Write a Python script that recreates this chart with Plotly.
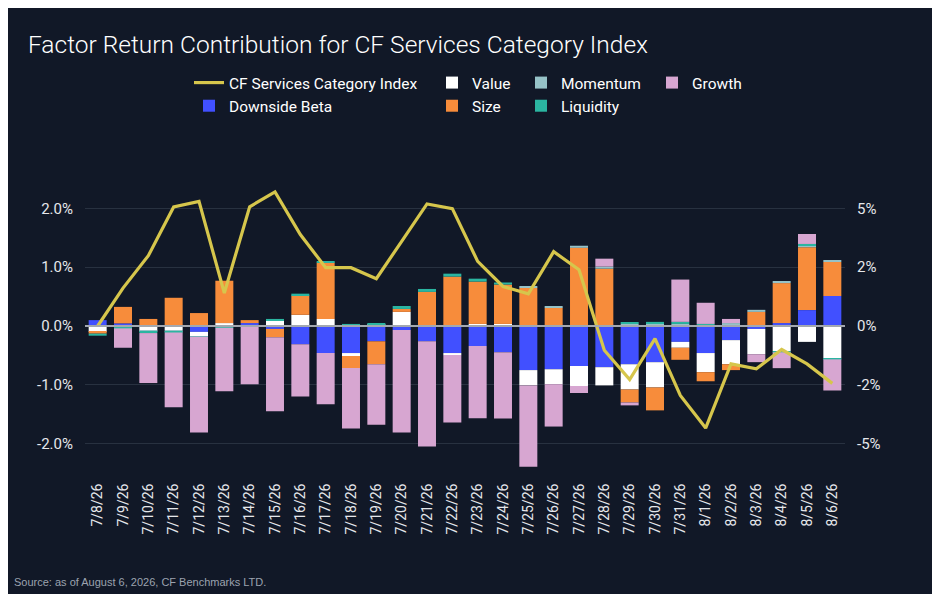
import plotly.graph_objects as go

dates = ["7/8/26", "7/9/26", "7/10/26", "7/11/26", "7/12/26", "7/13/26", "7/14/26", "7/15/26",
         "7/16/26", "7/17/26", "7/18/26", "7/19/26", "7/20/26", "7/21/26", "7/22/26", "7/23/26",
         "7/24/26", "7/25/26", "7/26/26", "7/27/26", "7/28/26", "7/29/26", "7/30/26", "7/31/26",
         "8/1/26", "8/2/26", "8/3/26", "8/4/26", "8/5/26", "8/6/26"]

# factor contributions, in percent (left axis)
downside_beta = [0.10, 0.045, 0.0, 0.0, -0.10, 0.0, 0.05, -0.05, -0.31, -0.46, -0.46, -0.26, -0.07, -0.26, -0.46,
                 -0.34, -0.445, -0.75, -0.735, -0.68, -0.70, -0.65, -0.615, -0.27, -0.46, -0.24, -0.05, 0.05, 0.27, 0.51]
value = [-0.10, 0.0, -0.08, -0.07, -0.07, 0.05, 0.0, 0.10, 0.19, 0.12, -0.05, 0.02, 0.24, 0.0, -0.035,
         0.035, 0.035, -0.26, -0.255, -0.34, -0.31, -0.43, -0.43, -0.10, -0.325, -0.41, -0.43, -0.43, -0.27, -0.55]
size = [-0.03, 0.28, 0.12, 0.48, 0.22, 0.72, 0.05, -0.14, 0.33, 0.96, -0.205, -0.39, 0.05, 0.58, 0.84,
        0.72, 0.67, 0.65, 0.31, 1.33, 0.975, -0.22, -0.39, -0.205, -0.155, -0.10, 0.24, 0.68, 1.07, 0.58]
momentum = [0.0, -0.02, -0.02, -0.02, 0.0, -0.015, 0.0, 0.0, 0.0, 0.0, 0.01, 0.0, 0.0, 0.0, 0.0,
            0.0, 0.0, 0.02, 0.02, 0.035, 0.035, 0.035, 0.05, 0.035, 0.015, 0.05, 0.035, 0.035, 0.035, 0.017]
liquidity = [-0.035, -0.02, -0.02, -0.02, -0.01, -0.015, 0.0, 0.02, 0.03, 0.02, 0.025, 0.02, 0.05, 0.05, 0.05,
             0.05, 0.035, 0.0, 0.0, 0.0, 0.0, 0.02, 0.02, 0.035, 0.02, 0.0, 0.0, -0.017, 0.02, -0.017]
growth = [0.0, -0.33, -0.85, -1.27, -1.63, -1.08, -0.99, -1.26, -0.89, -0.87, -1.03, -1.03, -1.74, -1.79, -1.145,
          -1.23, -1.13, -1.385, -0.72, -0.12, 0.135, -0.05, 0.0, 0.72, 0.36, 0.07, -0.135, -0.27, 0.17, -0.53]

# index return, in percent (right axis)
index_return = [0.0, 1.61, 2.99, 5.06, 5.30, 1.40, 5.07, 5.70, 3.89, 2.48, 2.48, 2.01, 3.60, 5.19, 4.99,
                2.75, 1.68, 1.37, 3.16, 2.39, -1.03, -2.28, -0.54, -2.95, -4.34, -1.61, -1.82, -1.00, -1.61, -2.44]

left_ticks = [-2, -1, 0, 1, 2]
left_labels = ["-2.0%", "-1.0%", "0.0%", "1.0%", "2.0%"]
right_ticks = [-5, -2.5, 0, 2.5, 5]
right_labels = ["-5%", "-2%", "0%", "2%", "5%"]

BG = "#111827"
FONT = "Roboto, Liberation Sans, Arial, sans-serif"
# the page places the figure at (8, 8); all positions below are figure pixels
W, H = 926, 586
ML, MR, MT, MB = 77, 89, 171, 121
pw = W - ML - MR
ph = H - MT - MB


def px_to_paper_x(px):
    return (px - ML) / pw


def px_to_paper_y(py):
    return (H - MB - py) / ph


fig = go.Figure()

fig.add_trace(go.Scatter(
    x=dates, y=index_return, name="CF Services Category Index", mode="lines",
    line=dict(color="#D6C64C", width=3.2), yaxis="y2", legend="legend"))

factors = [
    ("Downside Beta", downside_beta, "#4150FF", "legend"),
    ("Value", value, "#FFFFFF", "legend2"),
    ("Size", size, "#F78C3B", "legend2"),
    ("Momentum", momentum, "#96C2C7", "legend3"),
    ("Liquidity", liquidity, "#2BB5A1", "legend3"),
    ("Growth", growth, "#D7A6D1", "legend4"),
]
for name, vals, col, lgname in factors:
    fig.add_trace(go.Bar(x=dates, y=vals, name=name, marker=dict(color=col, line=dict(width=0)),
                         legend=lgname))

legend_font = dict(family=FONT, size=15.5, color="#FFFFFF")


def lg(xpx):
    return dict(x=px_to_paper_x(xpx), y=px_to_paper_y(58), xanchor="left",
                yanchor="top", orientation="v", font=legend_font, bgcolor="rgba(0,0,0,0)",
                borderwidth=0, traceorder="normal")


fig.update_layout(
    width=W, height=H,
    margin=dict(l=ML, r=MR, t=MT, b=MB, pad=0, autoexpand=False),
    paper_bgcolor=BG,
    plot_bgcolor=BG,
    barmode="relative",
    bargap=0.29,
    font=dict(family=FONT, color="#D1D5DB", size=14),
    title=dict(text="Factor Return Contribution for CF Services Category Index",
               x=20 / W, y=1 - 36 / H, xref="container", yref="container",
               xanchor="left", yanchor="middle",
               font=dict(family=FONT, size=24.5, color="#FFFFFF", weight=300)),
    legend=lg(181), legend2=lg(424), legend3=lg(513), legend4=lg(644),
    xaxis=dict(type="category", tickangle=-90, showgrid=False, zeroline=False, showline=False,
               ticks="outside", ticklen=4, tickcolor="rgba(0,0,0,0)",
               tickfont=dict(size=14, color="#E5E7EB")),
    yaxis=dict(range=[-2.5, 2.5], tickvals=left_ticks, ticktext=left_labels, showgrid=True,
               gridcolor="#283140", gridwidth=1, zeroline=False, showline=False,
               ticks="outside", ticklen=8, tickcolor="rgba(0,0,0,0)",
               tickfont=dict(size=15, color="#E5E7EB")),
    yaxis2=dict(range=[-6.25, 6.25], tickvals=right_ticks, ticktext=right_labels, overlaying="y",
                side="right", showgrid=False, zeroline=False, showline=False,
                ticks="outside", ticklen=8, tickcolor="rgba(0,0,0,0)",
                tickfont=dict(size=15, color="#E5E7EB")),
    shapes=[
        dict(type="line", xref="paper", yref="y", layer="above", x0=0, x1=1, y0=0, y1=0,
             line=dict(color="#A3A8B0", width=2)),
    ],
    annotations=[
        dict(text="Source: as of August 6, 2026, CF Benchmarks LTD.", xref="paper", yref="paper",
             x=px_to_paper_x(4), y=px_to_paper_y(574), xanchor="left", yanchor="middle",
             showarrow=False, font=dict(family="Liberation Sans, Arial, sans-serif", size=11,
                                        color="#9CA3AF")),
    ],
)

fig.write_html("out.html")
